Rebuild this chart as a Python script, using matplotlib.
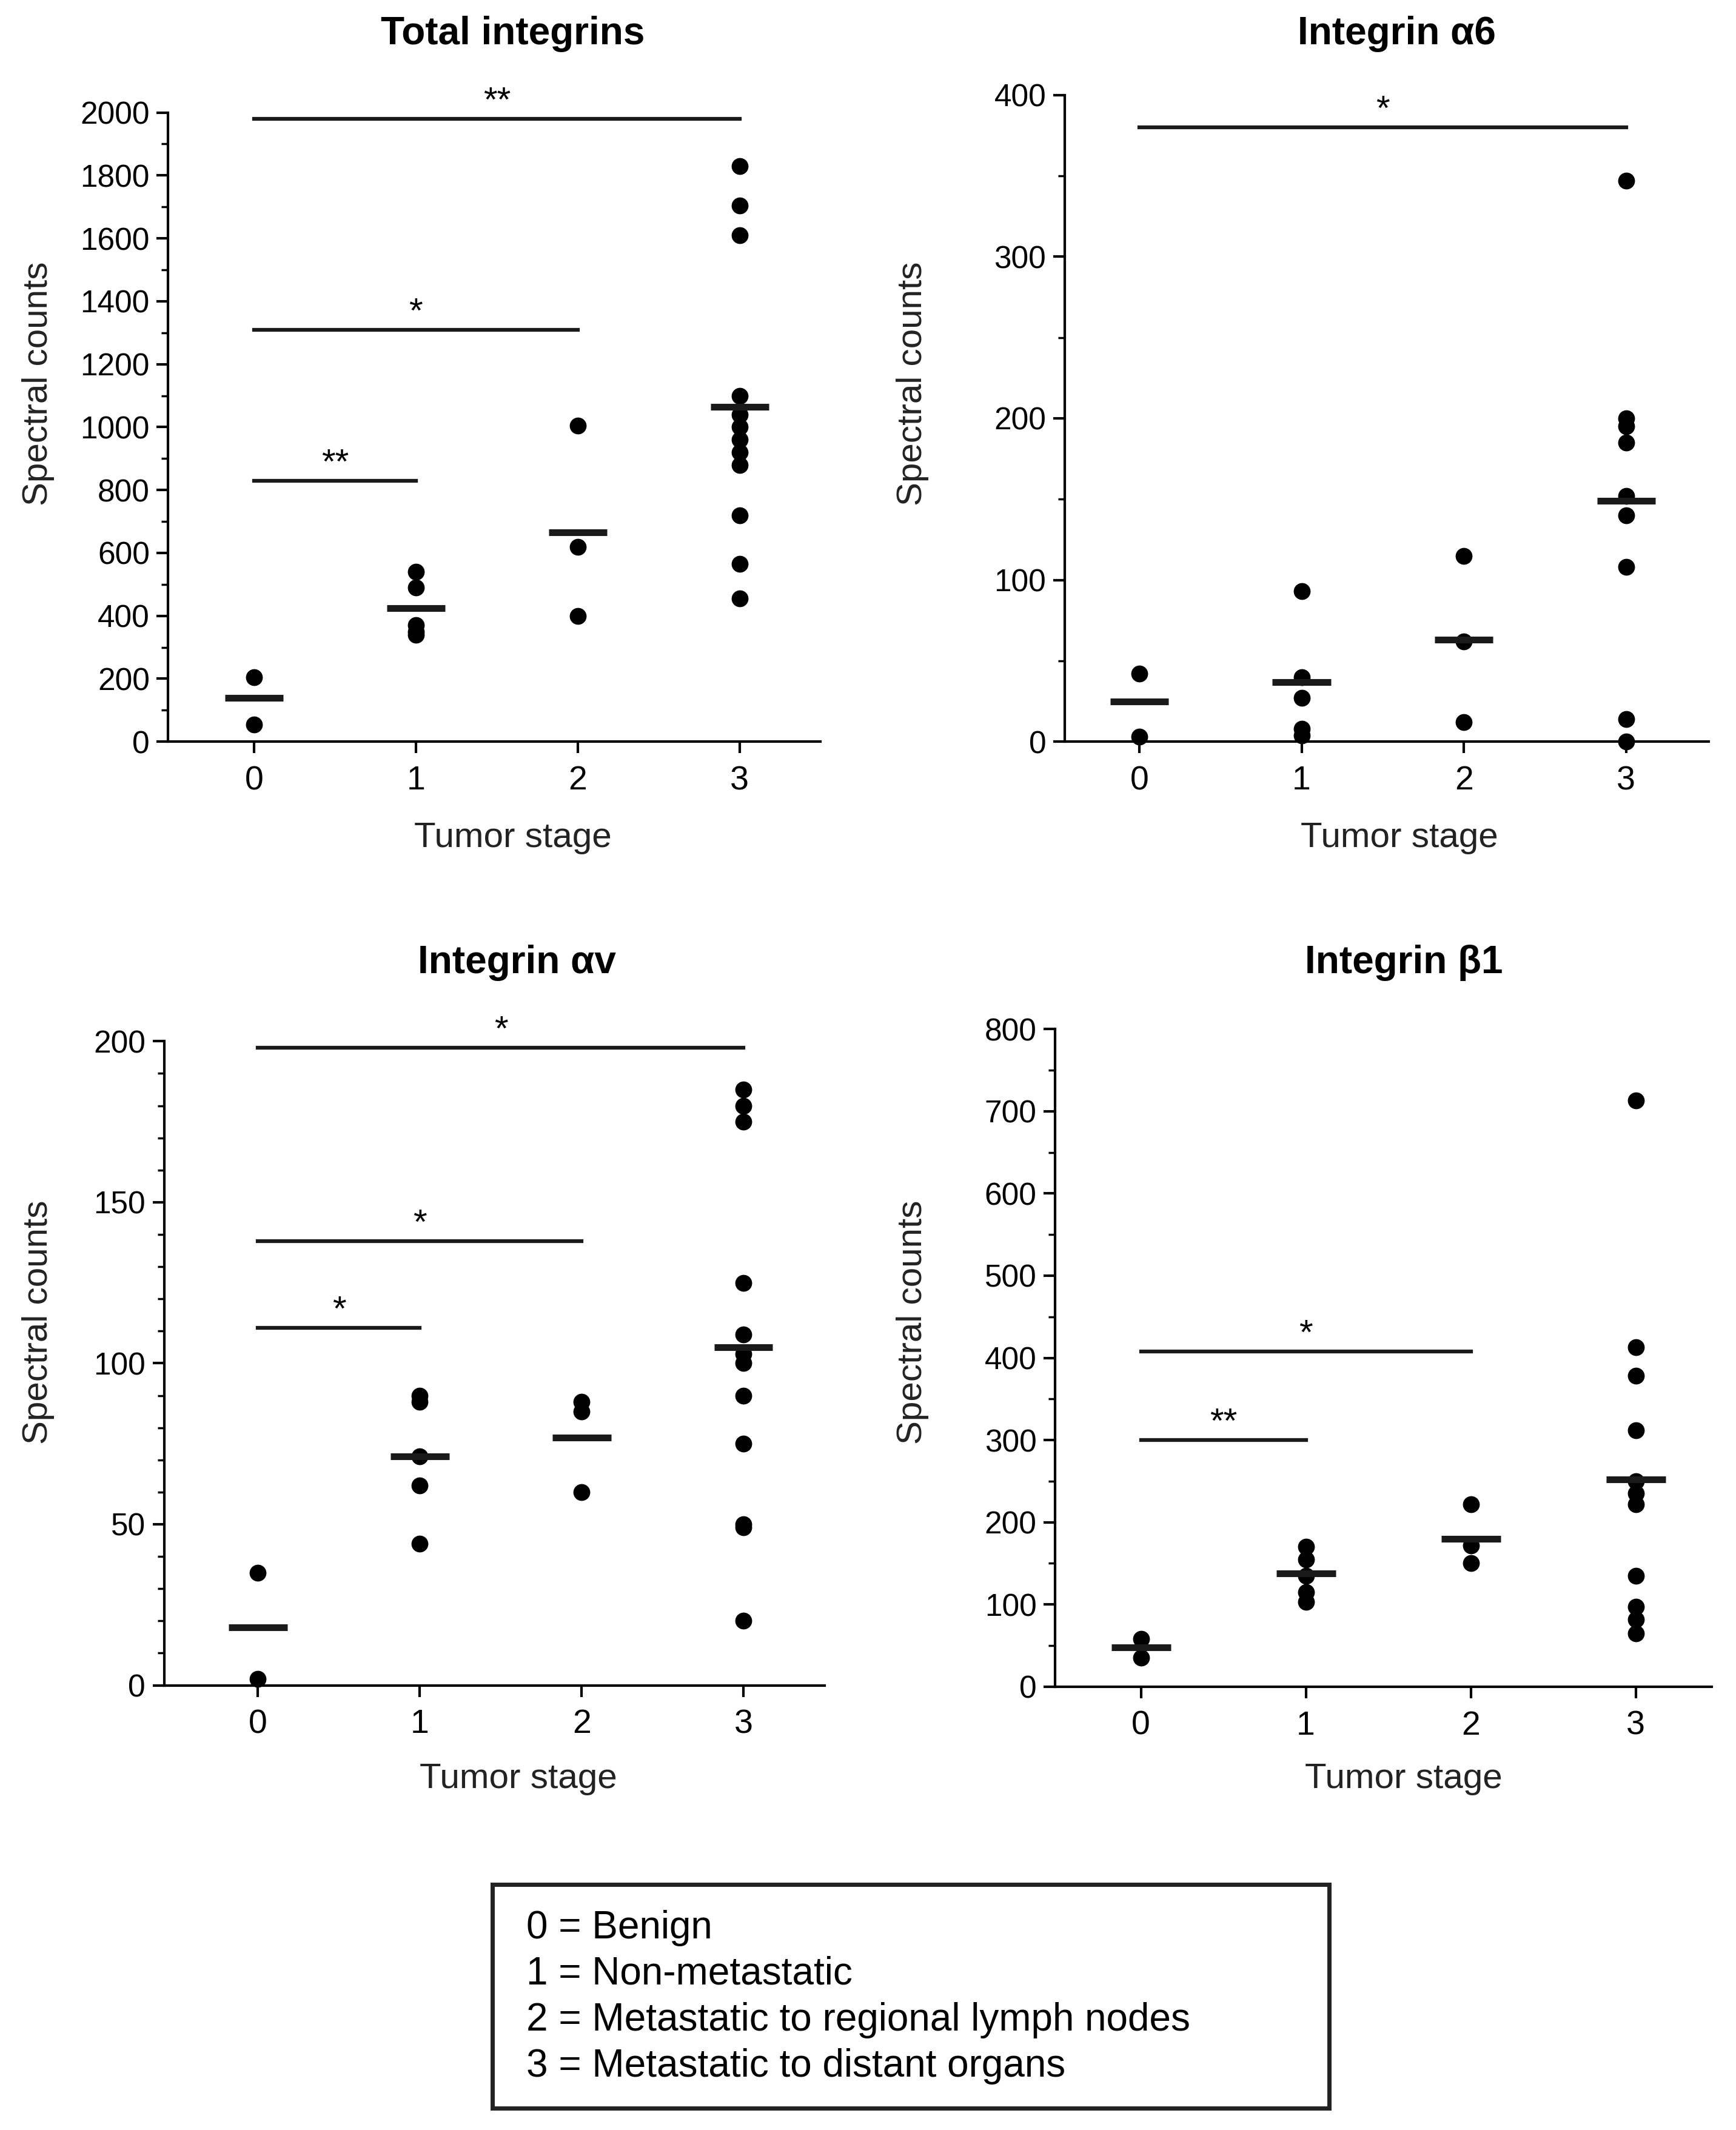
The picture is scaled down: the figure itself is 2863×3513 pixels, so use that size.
import matplotlib.pyplot as plt
from matplotlib.ticker import MultipleLocator
from matplotlib.patches import Rectangle

plt.rcParams['font.family'] = ['Liberation Sans', 'DejaVu Sans']

W, H = 1280, 1571  # layout grid in reference pixels

stages = [0, 1, 2, 3]

tot_pts = [[205, 55], [540, 490, 370, 350, 340], [1005, 620, 400],
           [1830, 1705, 1610, 1100, 1040, 1000, 960, 920, 880, 720, 565, 455]]
tot_med = [140, 425, 665, 1065]
tot_sig = [(0, 3, 1980, '**'), (0, 2, 1310, '*'), (0, 1, 830, '**')]

a6_pts = [[42, 3], [93, 40, 27, 8, 4], [115, 62, 12],
          [347, 200, 195, 185, 152, 140, 108, 14, 0]]
a6_med = [25, 37, 63, 149]
a6_sig = [(0, 3, 380, '*')]

av_pts = [[35, 2], [90, 88, 71, 62, 44], [88, 85, 60],
          [185, 180, 175, 125, 109, 103, 100, 90, 75, 50, 49, 20]]
av_med = [18, 71, 77, 105]
av_sig = [(0, 3, 198, '*'), (0, 2, 138, '*'), (0, 1, 111, '*')]

b1_pts = [[58, 35], [170, 155, 135, 115, 103], [222, 172, 150],
          [713, 413, 378, 312, 250, 235, 222, 135, 97, 82, 65]]
b1_med = [48, 138, 180, 252]
b1_sig = [(0, 2, 408, '*'), (0, 1, 300, '**')]

legend_lines = ['0 = Benign', '1 = Non-metastatic',
                '2 = Metastatic to regional lymph nodes',
                '3 = Metastatic to distant organs']

fig = plt.figure(figsize=(28.63, 35.13), dpi=100)


def fx(x):
    return x / W


def fy(y):
    return 1 - y / H


def panel(rect, xlim, ylim, major, minor, pts, med, sig, title, tpos, lpos, ypos):
    l, t, r, b = rect
    ax = fig.add_axes([fx(l), fy(b), fx(r - l), (b - t) / H])
    for s, vals in zip(stages, pts):
        ax.plot([s] * len(vals), vals, 'o', color='black', ms=19, clip_on=False)
    for s, m in zip(stages, med):
        ax.plot([s - 0.18, s + 0.18], [m, m], color='#1a1a1a', lw=8, solid_capstyle='butt')
    for a, bb, y, star in sig:
        ax.plot([a, bb], [y, y], color='#1a1a1a', lw=4.5, clip_on=False)
        ax.text((a + bb) / 2, y, star, ha='center', va='bottom', fontsize=42)
    ax.set_xlim(*xlim)
    ax.set_ylim(*ylim)
    ax.set_xticks(stages)
    ax.yaxis.set_major_locator(MultipleLocator(major))
    ax.yaxis.set_minor_locator(MultipleLocator(minor))
    for sp in ['top', 'right']:
        ax.spines[sp].set_visible(False)
    for sp in ['left', 'bottom']:
        ax.spines[sp].set_linewidth(3)
    ax.tick_params(axis='both', which='major', labelsize=37, length=14, width=3, pad=8)
    ax.tick_params(axis='y', which='minor', length=8, width=2.5)
    ax.tick_params(axis='x', labelsize=40, pad=14)
    fig.text(fx(tpos[0]), fy(tpos[1]), title, ha='center', va='center',
             fontsize=46, fontweight='bold')
    fig.text(fx(lpos[0]), fy(lpos[1]), 'Tumor stage', ha='center', va='center',
             fontsize=42, color='#222222')
    fig.text(fx(ypos[0]), fy(ypos[1]), 'Spectral counts', ha='center', va='center',
             rotation=90, fontsize=42, color='#222222')
    return ax


panel((124, 83, 605, 547), (-0.53, 3.5), (0, 2000), 200, 100, tot_pts, tot_med, tot_sig,
      'Total integrins', (378, 25), (378, 618), (28, 283))
panel((785, 70, 1260, 547), (-0.46, 3.51), (0, 400), 100, 50, a6_pts, a6_med, a6_sig,
      'Integrin \u03b16', (1030, 25), (1032, 618), (673, 283))
panel((121, 768, 608, 1243), (-0.58, 3.5), (0, 200), 50, 10, av_pts, av_med, av_sig,
      'Integrin \u03b1v', (381, 710), (382, 1312), (28, 975))
panel((778, 759, 1262, 1244), (-0.52, 3.46), (0, 800), 100, 50, b1_pts, b1_med, b1_sig,
      'Integrin \u03b21', (1035, 710), (1035, 1312), (673, 975))

fig.patches.append(Rectangle((fx(363), fy(1555)), fx(980 - 363), (1555 - 1390) / H,
                             transform=fig.transFigure, fill=False, lw=5, edgecolor='#222222'))
for i, txt in enumerate(legend_lines):
    fig.text(fx(388), fy(1422 + 34 * i), txt, ha='left', va='center', fontsize=46)

fig.savefig('out.png', dpi=100)
